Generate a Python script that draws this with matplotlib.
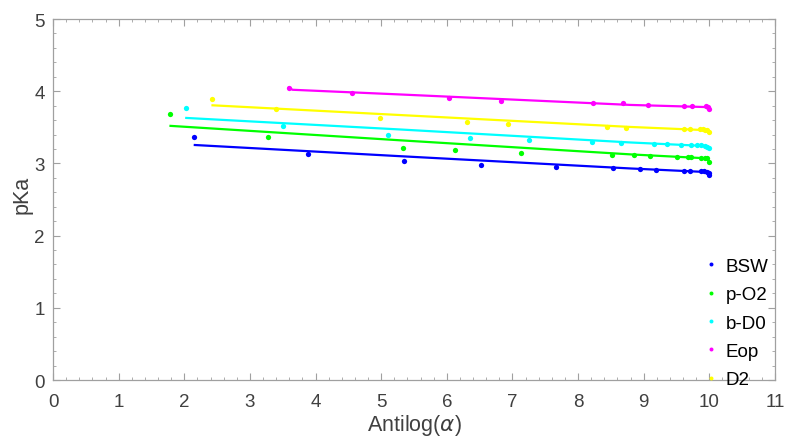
import matplotlib
matplotlib.use("Agg")
import matplotlib.pyplot as plt
from matplotlib.ticker import MultipleLocator, AutoMinorLocator

plt.rcParams['font.family'] = ['Liberation Sans', 'DejaVu Sans']
plt.rcParams['mathtext.fontset'] = 'dejavusans'

# Measured pKa against antilog(alpha) for each system
bsw_x = [2.15, 3.88, 5.34, 6.52, 7.66, 8.53, 8.95, 9.19, 9.62, 9.70, 9.87, 9.92, 9.96, 9.99, 10.0]
bsw_y = [3.37, 3.125, 3.03, 2.98, 2.95, 2.93, 2.92, 2.91, 2.90, 2.90, 2.89, 2.89, 2.88, 2.87, 2.84]

po2_x = [1.78, 3.27, 5.33, 6.13, 7.13, 8.52, 8.85, 9.10, 9.51, 9.67, 9.72, 9.88, 9.93, 9.97, 10.0]
po2_y = [3.68, 3.37, 3.22, 3.19, 3.15, 3.11, 3.11, 3.10, 3.09, 3.09, 3.09, 3.08, 3.08, 3.07, 3.02]

bd0_x = [2.02, 3.50, 5.10, 6.36, 7.25, 8.21, 8.66, 9.15, 9.35, 9.57, 9.72, 9.81, 9.88, 9.93, 9.97, 10.0]
bd0_y = [3.77, 3.52, 3.40, 3.35, 3.32, 3.29, 3.28, 3.27, 3.27, 3.26, 3.26, 3.25, 3.25, 3.24, 3.23, 3.21]

eop_x = [3.59, 4.55, 6.04, 6.82, 8.23, 8.68, 9.07, 9.61, 9.74, 9.95, 9.98, 10.0]
eop_y = [4.05, 3.98, 3.90, 3.87, 3.84, 3.83, 3.815, 3.80, 3.80, 3.79, 3.785, 3.76]

d2_x = [2.42, 3.39, 4.98, 6.31, 6.93, 8.44, 8.73, 9.61, 9.71, 9.86, 9.90, 9.94, 9.97, 10.0]
d2_y = [3.89, 3.75, 3.63, 3.57, 3.55, 3.50, 3.49, 3.48, 3.48, 3.47, 3.47, 3.46, 3.46, 3.44]

# Fitted curves for each system
bsw_fit_x = [2.16, 5.29, 8.80, 9.97, 10.0]
bsw_fit_y = [3.255, 3.10, 2.93, 2.88, 2.84]
po2_fit_x = [1.79, 5.29, 8.80, 9.97, 10.0]
po2_fit_y = [3.52, 3.32, 3.125, 3.07, 3.02]
bd0_fit_x = [2.03, 5.29, 8.80, 9.97, 10.0]
bd0_fit_y = [3.63, 3.47, 3.29, 3.24, 3.21]
eop_fit_x = [3.59, 3.65, 5.29, 8.80, 9.97, 10.0]
eop_fit_y = [4.05, 4.02, 3.955, 3.81, 3.78, 3.76]
d2_fit_x = [2.43, 5.29, 8.80, 9.97, 10.0]
d2_fit_y = [3.805, 3.67, 3.505, 3.46, 3.44]

labels = ['BSW', 'p-O2', 'b-D0', 'Eop', 'D2']
colors = ['#0000FF', '#00FF00', '#00FFFF', '#FF00FF', '#FFFF00']

series = [
    (bsw_x, bsw_y, bsw_fit_x, bsw_fit_y),
    (po2_x, po2_y, po2_fit_x, po2_fit_y),
    (bd0_x, bd0_y, bd0_fit_x, bd0_fit_y),
    (eop_x, eop_y, eop_fit_x, eop_fit_y),
    (d2_x, d2_y, d2_fit_x, d2_fit_y),
]

fig = plt.figure(figsize=(7.88, 4.39), dpi=100)
ax = fig.add_axes([0.0673, 0.1321, 0.9162, 0.8223])

handles = []
for (x, y, fx, fy), lab, c in zip(series, labels, colors):
    ax.plot(fx, fy, '-', color=c, lw=1.6, zorder=2)
    h, = ax.plot(x, y, 'o', color=c, ms=3.8, mec='none', zorder=3, label=lab)
    handles.append(h)

ax.set_xlim(0, 11)
ax.set_ylim(0, 5)
ax.xaxis.set_major_locator(MultipleLocator(1))
ax.yaxis.set_major_locator(MultipleLocator(1))
ax.xaxis.set_minor_locator(AutoMinorLocator(5))
ax.yaxis.set_minor_locator(AutoMinorLocator(5))

spine_col = '#a0a0a0'
for s in ax.spines.values():
    s.set_color(spine_col)
    s.set_linewidth(0.9)
ax.tick_params(which='both', direction='in', top=True, right=True,
               color=spine_col, labelcolor='#404040', labelsize=13.5)
ax.tick_params(which='major', length=5, width=0.8)
ax.tick_params(which='minor', length=2.5, width=0.6)
ax.tick_params(axis='x', which='major', pad=9)
ax.tick_params(axis='y', which='major', pad=6)

ax.set_xlabel(r'Antilog($\alpha$)', fontsize=15.5, color='#404040', labelpad=2)
ax.set_ylabel('pKa', fontsize=15.5, color='#404040')
ax.yaxis.set_label_coords(-0.028, 0.515)

leg = ax.legend(handles=handles, loc='center left', bbox_to_anchor=(0.895, 0.158),
                frameon=False, fontsize=13.5, markerscale=0.75, handlelength=0.5,
                handletextpad=0.5, labelspacing=0.6, borderaxespad=0)

fig.savefig('out.png', dpi=100)
